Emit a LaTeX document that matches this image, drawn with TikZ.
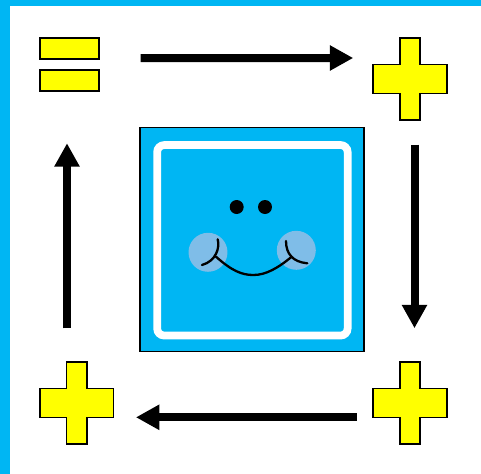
\documentclass[tikz,border=0pt]{standalone}
\usetikzlibrary{arrows.meta}
\definecolor{skyblue}{HTML}{00B6F3}
\definecolor{cheekblue}{HTML}{7FBDE8}
\definecolor{plusyellow}{HTML}{FFFF00}
\begin{document}
\begin{tikzpicture}[
    x=0.02cm,
    y=-0.02cm,
    barblock/.style={
        draw,
        fill=plusyellow,
        line width=0.036cm,
        outer sep=0pt,
        minimum width=1.19cm,
        minimum height=0.41cm
    },
    plusshape/.pic={
        \draw[fill=plusyellow, line width=0.036cm]
            (-10.2,-41) -- (10.2,-41) -- (10.2,-14.5) -- (36.7,-14.5)
            -- (36.7,14.5) -- (10.2,14.5) -- (10.2,41) -- (-10.2,41)
            -- (-10.2,14.5) -- (-36.7,14.5) -- (-36.7,-14.5) -- (-10.2,-14.5) -- cycle;
        \node[outer sep=0pt, minimum width=1.49cm, minimum height=1.67cm] (-box) {};
    },
    faceblock/.style={
        draw,
        fill=skyblue,
        line width=0.03cm,
        outer sep=0pt,
        minimum width=4.48cm,
        minimum height=4.48cm
    },
    frameblock/.style={
        draw=white,
        line width=0.155cm,
        rounded corners=0.14cm,
        minimum width=3.81cm,
        minimum height=3.81cm
    },
    eyedot/.style={circle, fill=black, inner sep=0pt, minimum size=0.28cm},
    cheekdot/.style={circle, fill=cheekblue, inner sep=0pt, minimum size=0.78cm},
    smileline/.style={line width=0.046cm, line cap=round},
    arrow/.style={-{Triangle[length=0.47cm, width=0.48cm]}, line width=0.16cm}
]
\useasboundingbox (0,0) rectangle (481,474);

% Page edge
\fill[skyblue] (0,0) rectangle (481,6);
\fill[skyblue] (0,0) rectangle (10,474);

% Corner shapes
\node[barblock] (topbar) at (69.5,48.5) {};
\node[barblock] (lowbar) at (69.5,80.5) {};
\pic (plusne) at (410,79) {plusshape};
\pic (plusse) at (410,403) {plusshape};
\pic (plussw) at (76.7,403) {plusshape};

% Face
\node[faceblock] (face) at (251.8,239.7) {};
\node[frameblock] (frame) at (252.4,240.3) {};
\node[cheekdot] (leftcheek) at (208,252.3) {};
\node[cheekdot] (rightcheek) at (296.3,250.3) {};
\node[eyedot] (lefteye) at (236.7,207) {};
\node[eyedot] (righteye) at (265,207) {};

\draw[smileline] (216,256.7) .. controls (232,271) and (242,275) .. (253.3,275)
    .. controls (266,275) and (278,268) .. (291.7,256.7);
\draw[smileline] (217.7,239.3) .. controls (220,248) and (216,261) .. (202,265);
\draw[smileline] (286,241) .. controls (286,254) and (293,262) .. (307.3,263.3);

% Arrows
\draw[arrow] ([shift={(41.5,9.5)}]topbar.east) -- ([shift={(-19.5,-21)}]plusne-box.west);
\draw[arrow] ([shift={(4.5,24)}]plusne-box.south) -- ([shift={(4.5,-33)}]plusse-box.north);
\draw[arrow] ([shift={(-16,14.3)}]plusse-box.west) -- ([shift={(22,14.3)}]plussw-box.east);
\draw[arrow] ([shift={(-9.7,-33)}]plussw-box.north) -- ([shift={(-2.5,52.5)}]lowbar.south);

\end{tikzpicture}
\end{document}
